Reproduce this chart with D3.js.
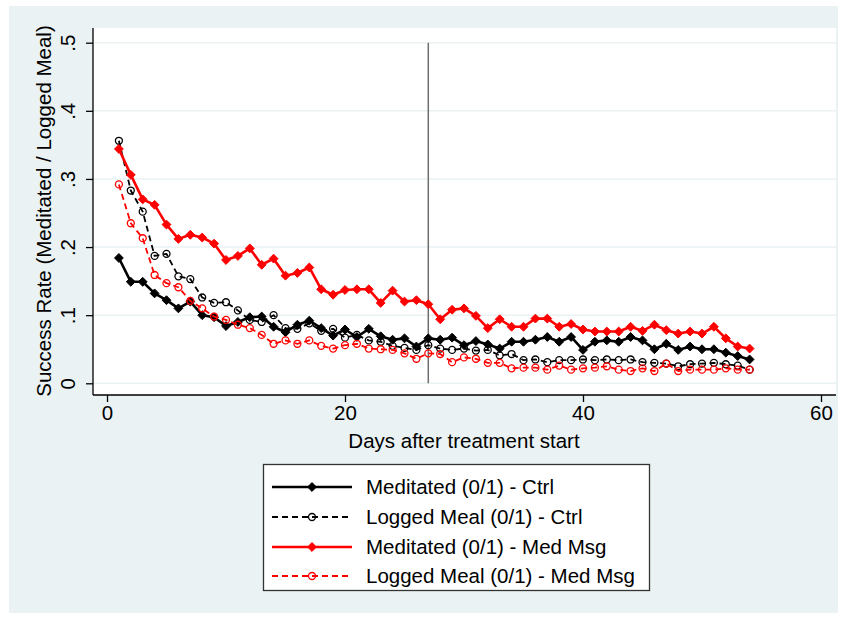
<!DOCTYPE html>
<html>
<head>
<meta charset="utf-8">
<script src="https://cdn.jsdelivr.net/npm/d3@7"></script>
<style>
  html, body { margin: 0; padding: 0; background: #ffffff; }
  svg { display: block; font-family: "Liberation Sans", Arial, sans-serif; }
</style>
</head>
<body>
<svg id="chart" width="846" height="618"></svg>
<script>
// Days since the treatment started
const days = [1,2,3,4,5,6,7,8,9,10,11,12,13,14,15,16,17,18,19,20,21,22,23,24,25,26,27,
              28,29,30,31,32,33,34,35,36,37,38,39,40,41,42,43,44,45,46,47,48,49,50,51,52,53,54];

// Share of users who meditated, control group
const meditatedCtrl = [.184,.149,.149,.132,.122,.110,.120,.100,.097,.084,.090,.097,.098,.083,.075,.086,.092,.081,
  .070,.079,.068,.080,.069,.064,.066,.054,.066,.064,.067,.056,.062,.057,.051,.061,.061,.064,
  .068,.061,.068,.049,.061,.063,.061,.068,.063,.050,.058,.049,.054,.050,.050,.045,.040,.035];

// Share of users who logged a meal, control group
const loggedCtrl = [.356,.283,.252,.187,.190,.157,.153,.126,.118,.119,.107,.093,.090,.100,.081,.080,.088,.077,
  .080,.067,.071,.063,.061,.055,.052,.049,.056,.051,.049,.051,.048,.049,.041,.043,.034,.035,
  .031,.034,.034,.035,.034,.035,.034,.035,.031,.030,.029,.025,.028,.029,.030,.028,.026,.020];

// Share of users who meditated, meditation-message group
const meditatedMsg = [.344,.306,.270,.262,.233,.212,.218,.214,.205,.181,.187,.198,.174,.183,.158,.162,.170,.138,
  .130,.137,.138,.138,.118,.136,.120,.122,.116,.094,.108,.110,.099,.081,.094,.083,.083,.095,
  .095,.083,.087,.079,.076,.076,.076,.083,.077,.086,.078,.073,.076,.073,.083,.066,.054,.051];

// Share of users who logged a meal, meditation-message group
const loggedMsg = [.292,.235,.213,.159,.147,.141,.121,.110,.098,.093,.086,.081,.071,.058,.063,.058,.063,.055,
  .051,.056,.058,.051,.050,.049,.044,.036,.044,.043,.031,.038,.036,.030,.030,.022,.023,.023,
  .020,.026,.020,.022,.023,.025,.020,.018,.022,.018,.029,.018,.020,.020,.020,.022,.020,.020];

const xTicks = [0, 20, 40, 60];
const yTicks = [0, .1, .2, .3, .4, .5];
const yTickLabels = ["0", ".1", ".2", ".3", ".4", ".5"];
const treatmentSwitchDay = 27;

const seriesNames = ["Meditated (0/1) - Ctrl", "Logged Meal (0/1) - Ctrl",
                     "Meditated (0/1) - Med Msg", "Logged Meal (0/1) - Med Msg"];
const seriesValues = [meditatedCtrl, loggedCtrl, meditatedMsg, loggedMsg];
const seriesColors = ["#000000", "#000000", "#ff0000", "#ff0000"];
const seriesDashed = [false, true, false, true];

const svg = d3.select("#chart");
const FONT = 20.5;

// Outer graph region
svg.append("rect").attr("x", 9).attr("y", 6).attr("width", 829).attr("height", 607)
  .attr("fill", "#eaf2f3");

// Plot region
const plot = { left: 93, right: 836, top: 28, bottom: 395 };
svg.append("rect").attr("x", plot.left).attr("y", plot.top)
  .attr("width", plot.right - plot.left).attr("height", plot.bottom - plot.top)
  .attr("fill", "#ffffff");

const x = d3.scaleLinear().domain([0, 60]).range([107, 821]);
const y = d3.scaleLinear().domain([0, .5]).range([383.3, 42.7]);

// Horizontal gridlines
svg.append("g").selectAll("line").data(yTicks).join("line")
  .attr("x1", plot.left).attr("x2", plot.right)
  .attr("y1", d => y(d)).attr("y2", d => y(d))
  .attr("stroke", "#eaf2f3").attr("stroke-width", 1.5);

// Y axis
const yAxis = d3.axisLeft(y).tickValues(yTicks).tickSize(7).tickPadding(0)
  .tickFormat((d, i) => yTickLabels[i]);
const gy = svg.append("g").attr("transform", `translate(${plot.left},0)`).call(yAxis);
gy.select(".domain").attr("d", `M0,${plot.top}V${plot.bottom}`).attr("stroke", "#000").attr("stroke-width", 1.3);
gy.selectAll(".tick line").attr("stroke", "#000").attr("stroke-width", 1.3);
gy.selectAll(".tick text")
  .attr("x", 0).attr("dy", null)
  .attr("transform", "translate(-18,0) rotate(-90)")
  .attr("text-anchor", "middle")
  .attr("fill", "#000").attr("font-size", FONT)
  .attr("font-family", "Liberation Sans, Arial, sans-serif");

// X axis
const xAxis = d3.axisBottom(x).tickValues(xTicks).tickSize(7).tickPadding(3);
const gx = svg.append("g").attr("transform", `translate(0,${plot.bottom})`).call(xAxis);
gx.select(".domain").attr("d", `M${plot.left},0H${plot.right}`).attr("stroke", "#000").attr("stroke-width", 1.3);
gx.selectAll(".tick line").attr("stroke", "#000").attr("stroke-width", 1.3);
gx.selectAll(".tick text").attr("fill", "#000").attr("font-size", FONT)
  .attr("font-family", "Liberation Sans, Arial, sans-serif");

// Axis titles
svg.append("text").attr("x", (x(0) + x(60)) / 2).attr("y", 448)
  .attr("text-anchor", "middle").attr("font-size", FONT).attr("fill", "#000")
  .text("Days after treatment start");
svg.append("text")
  .attr("transform", "translate(51,211) rotate(-90)")
  .attr("text-anchor", "middle").attr("font-size", FONT).attr("fill", "#000")
  .text("Success Rate (Meditated / Logged Meal)");

// Treatment switch marker
svg.append("line")
  .attr("x1", x(treatmentSwitchDay)).attr("x2", x(treatmentSwitchDay))
  .attr("y1", y(.5)).attr("y2", y(0))
  .attr("stroke", "#6e6e6e").attr("stroke-width", 1.5);

// Series lines and markers
const line = d3.line().x((d, i) => x(days[i])).y(d => y(d));
const diamond = d3.symbol().type(d3.symbolDiamond2 || d3.symbolDiamond).size(50);
const circle = d3.symbol().type(d3.symbolCircle).size(38);

function drawMarker(sel, k) {
  if (seriesDashed[k]) {
    sel.attr("d", circle()).attr("fill", "none")
      .attr("stroke", seriesColors[k]).attr("stroke-width", 1.3);
  } else {
    sel.attr("d", diamond()).attr("fill", seriesColors[k])
      .attr("stroke", seriesColors[k]).attr("stroke-width", 1);
  }
}

seriesValues.forEach((vals, k) => {
  const g = svg.append("g");
  g.append("path").datum(vals).attr("d", line).attr("fill", "none")
    .attr("stroke", seriesColors[k])
    .attr("stroke-width", seriesDashed[k] ? 1.8 : 2.6)
    .attr("stroke-dasharray", seriesDashed[k] ? "6,4" : null)
    .attr("stroke-linejoin", "round");
  g.selectAll("path.pt").data(vals).join("path").attr("class", "pt")
    .attr("transform", (d, i) => `translate(${x(days[i])},${y(d)})`)
    .call(drawMarker, k);
});

// Legend
const legend = svg.append("g");
legend.append("rect").attr("x", 263.5).attr("y", 464.5).attr("width", 386).attr("height", 126)
  .attr("fill", "#ffffff").attr("stroke", "#333").attr("stroke-width", 1.3);
const rowY = [487, 517, 547, 576];
seriesNames.forEach((name, k) => {
  const yy = rowY[k];
  legend.append("line").attr("x1", 272).attr("x2", 352).attr("y1", yy).attr("y2", yy)
    .attr("stroke", seriesColors[k])
    .attr("stroke-width", seriesDashed[k] ? 1.8 : 2.6)
    .attr("stroke-dasharray", seriesDashed[k] ? "6,4" : null);
  legend.append("path").attr("transform", `translate(312,${yy})`).call(drawMarker, k);
  legend.append("text").attr("x", 366).attr("y", yy).attr("dy", "0.36em")
    .attr("font-size", FONT).attr("fill", "#000").text(name);
});
</script>
</body>
</html>
